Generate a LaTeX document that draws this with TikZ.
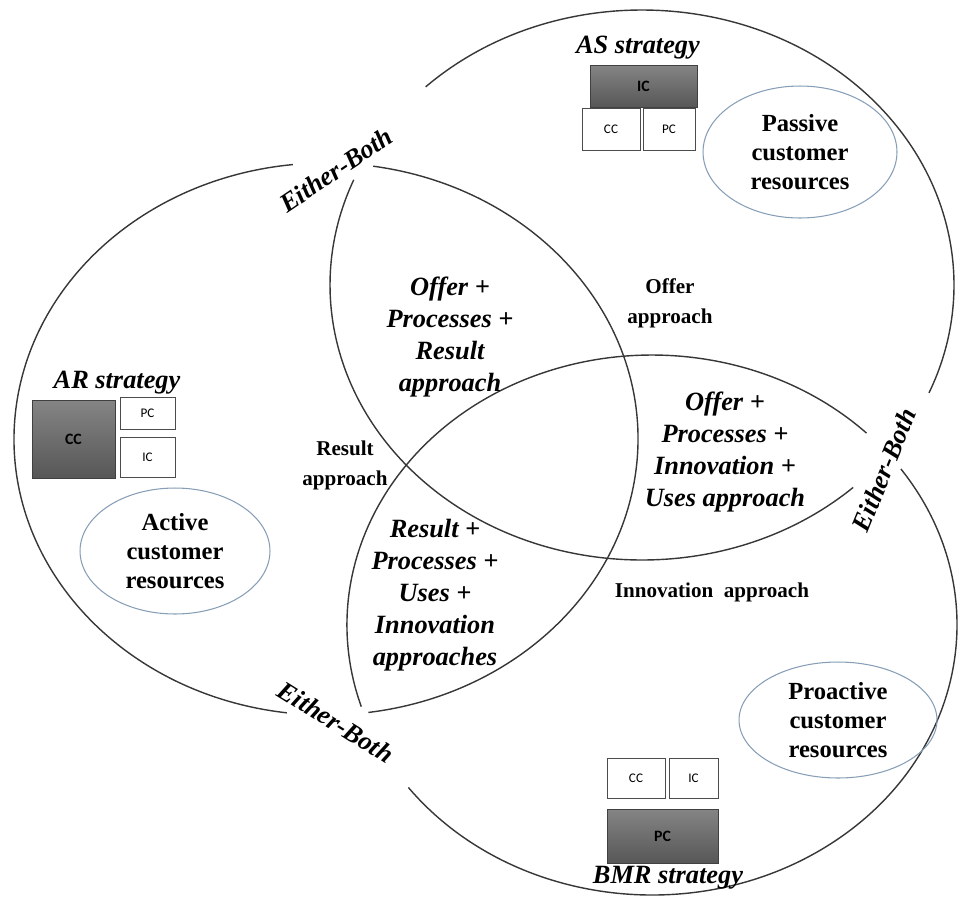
\documentclass[tikz,border=0pt]{standalone}
\usepackage{fontspec}
\setmainfont{Liberation Serif}
\setsansfont{Carlito}
\usetikzlibrary{shapes.geometric}
\definecolor{rimgray}{RGB}{55,55,55}
\definecolor{resblue}{RGB}{135,158,182}
\begin{document}
\begin{tikzpicture}[x=0.02cm, y=-0.02cm,
  rim/.style={draw=rimgray, line width=0.8pt},
  lens/.style={font=\bfseries\itshape\fontsize{15}{18.2}\selectfont, align=center, inner sep=0pt},
  approach/.style={font=\bfseries\fontsize{12}{17}\selectfont, align=center, inner sep=0pt},
  either/.style={font=\bfseries\itshape\fontsize{15}{18}\selectfont, inner sep=0pt},
  strategy/.style={font=\bfseries\itshape\fontsize{15}{18}\selectfont, inner sep=0pt},
  darkcap/.style={draw=black!75, top color=black!48, bottom color=black!66, font=\sffamily\bfseries\fontsize{9}{10}\selectfont, inner sep=0pt},
  litecap/.style={draw=black!70, fill=white, font=\sffamily\fontsize{7.5}{9}\selectfont, inner sep=0pt},
  resource/.style={ellipse, draw=resblue, line width=0.6pt, font=\bfseries\fontsize{14}{16.5}\selectfont, align=center, inner sep=0pt}]
\useasboundingbox (0,0) rectangle (960,907);
\coordinate (ASmid) at (642,285);
\coordinate (ARmid) at (326,439);
\coordinate (BMRmid) at (652,625);
\draw[rim] (ASmid) ++(47.4:312 and 275) arc[start angle=47.4, end angle=202.5, x radius=312, y radius=275];
\draw[rim] (ASmid) ++(226.1:312 and 275) arc[start angle=226.1, end angle=383.1, x radius=312, y radius=275];
\draw[rim] (ARmid) ++(97.2:312 and 276) arc[start angle=97.2, end angle=263.9, x radius=312, y radius=276];
\draw[rim] (ARmid) ++(278.7:312 and 276) arc[start angle=278.7, end angle=442.2, x radius=312, y radius=276];
\draw[rim] (BMRmid) ++(-35.3:305 and 270) arc[start angle=-35.3, end angle=143, x radius=305, y radius=270];
\draw[rim] (BMRmid) ++(162.4:305 and 270) arc[start angle=162.4, end angle=314.7, x radius=305, y radius=270];
\node[either, rotate=34] (ebtop) at (336,170) {Either-Both};
\node[either, rotate=68] (ebright) at (884,470) {Either-Both};
\node[either, rotate=-32] (ebbottom) at (336,722) {Either-Both};
\node[lens] (opr) at (450,337) {Offer +\\Processes +\\Result\\approach};
\node[lens] (opiu) at (725,452) {Offer +\\Processes +\\Innovation +\\Uses approach};
\node[lens] (rpui) at (435,595) {Result +\\Processes +\\Uses +\\Innovation\\approaches};
\node[approach] (offer) at (670,303) {Offer\\approach};
\node[approach] (result) at (345,465) {Result\\approach};
\node[approach] (innov) at (712,592) {Innovation\hspace{0.5em}approach};
\node[strategy] (as) at (638,48) {AS strategy};
\node[darkcap, minimum width=2.14cm, minimum height=0.84cm] (asic) at (643.5,86) {IC};
\node[litecap, minimum width=1.16cm, minimum height=0.84cm] (ascc) at (611,129) {CC};
\node[litecap, minimum width=1.04cm, minimum height=0.84cm] (aspc) at (669,129) {PC};
\node[resource, minimum width=3.88cm, minimum height=2.64cm] (passive) at (800,152) {Passive\\customer\\resources};
\node[strategy] (ar) at (117,383) {AR strategy};
\node[darkcap, minimum width=1.66cm, minimum height=1.56cm] (arcc) at (73.5,439) {CC};
\node[litecap, minimum width=1.1cm, minimum height=0.64cm] (arpc) at (147.5,413) {PC};
\node[litecap, minimum width=1.1cm, minimum height=0.8cm] (aric) at (147.5,457) {IC};
\node[resource, minimum width=3.8cm, minimum height=2.52cm] (active) at (175,551) {Active\\customer\\resources};
\node[litecap, minimum width=1.16cm, minimum height=0.8cm] (bmrcc) at (636,778) {CC};
\node[litecap, minimum width=0.98cm, minimum height=0.8cm] (bmric) at (693.5,778) {IC};
\node[darkcap, minimum width=2.22cm, minimum height=1.08cm] (bmrpc) at (662.5,836) {PC};
\node[strategy] (bmr) at (668,878) {BMR strategy};
\node[resource, minimum width=3.96cm, minimum height=2.32cm] (proactive) at (838,720) {Proactive\\customer\\resources};
\end{tikzpicture}
\end{document}
